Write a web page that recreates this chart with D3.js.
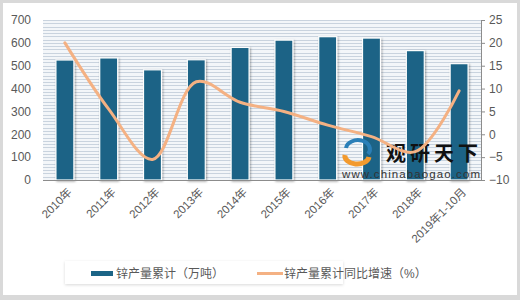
<!DOCTYPE html>
<html>
<head>
<meta charset="utf-8">
<script src="https://cdn.jsdelivr.net/npm/d3@7"></script>
<style>
  body { margin: 0; background: #d9d9d9; }
  svg { display: block; font-family: "Liberation Sans", "Noto Sans CJK SC", sans-serif; }
</style>
</head>
<body>
<svg id="chart" width="520" height="300"></svg>
<script>
// zinc output, 2010 - 2019 Jan-Oct
const years = ["2010年", "2011年", "2012年", "2013年", "2014年", "2015年", "2016年", "2017年", "2018年", "2019年1-10月"];
const output = [525, 534, 482, 526, 580, 612, 627, 621, 566, 509];
const growth = [20, 5.5, -5.5, 11.5, 7, 5, 2, -0.5, -3.8, 9.5];
const leftTicks = [0, 100, 200, 300, 400, 500, 600, 700];
const rightTicks = [-10, -5, 0, 5, 10, 15, 20, 25];
const legendNames = ["锌产量累计（万吨）", "锌产量累计同比增速（%）"];

const svg = d3.select("#chart");
const m = { top: 20, right: 39, bottom: 120, left: 43 };
const W = 520, H = 300;
const innerW = W - m.left - m.right;
const innerH = H - m.top - m.bottom;

// white panel inside gray frame
svg.append("rect").attr("x", 3).attr("y", 3).attr("width", W - 6).attr("height", H - 8)
    .attr("fill", "#fff");

const x = d3.scaleBand().domain(years).range([m.left, m.left + innerW]).paddingInner(0.59).paddingOuter(0.295);
const yL = d3.scaleLinear().domain([0, 700]).range([m.top + innerH, m.top]);
const yR = d3.scaleLinear().domain([-10, 25]).range([m.top + innerH, m.top]);

// plot background with dense horizontal lines
svg.append("rect").attr("x", m.left).attr("y", m.top).attr("width", innerW).attr("height", innerH)
    .attr("fill", "#f3f6f9");
svg.append("g").selectAll("line")
    .data(d3.range(0, 700.01, 100 / 7))
    .join("line")
    .attr("x1", m.left).attr("x2", m.left + innerW)
    .attr("y1", d => Math.round(yL(d)) + 0.5).attr("y2", d => Math.round(yL(d)) + 0.5)
    .attr("stroke", "#c9d3de").attr("stroke-width", 1);

// bars with white outline and soft shadow
const defs = svg.append("defs");
const f = defs.append("filter").attr("id", "sh").attr("x", "-30%").attr("y", "-10%").attr("width", "160%").attr("height", "130%");
f.append("feDropShadow").attr("dx", 1).attr("dy", 1).attr("stdDeviation", 1.2).attr("flood-color", "#000").attr("flood-opacity", 0.35);

svg.append("g").selectAll("rect")
    .data(output)
    .join("rect")
    .attr("x", (d, i) => x(years[i]))
    .attr("y", d => yL(d))
    .attr("width", x.bandwidth())
    .attr("height", d => yL(0) - yL(d))
    .attr("fill", "#1b6486")
    .attr("stroke", "#fff").attr("stroke-width", 1.2)
    .attr("filter", "url(#sh)");

// bottom axis line
svg.append("line").attr("x1", m.left).attr("x2", m.left + innerW)
    .attr("y1", yL(0) + 0.5).attr("y2", yL(0) + 0.5).attr("stroke", "#8c8c8c");

// right axis
const rAxis = svg.append("g").attr("transform", `translate(${m.left + innerW},0)`)
    .call(d3.axisRight(yR).tickValues(rightTicks).tickSize(4).tickPadding(4));
rAxis.select(".domain").attr("stroke", "#8c8c8c");
rAxis.selectAll("line").attr("stroke", "#8c8c8c");
rAxis.selectAll("text").attr("fill", "#595959").style("font-size", "12px");

// left axis, labels only
const lAxis = svg.append("g").attr("transform", `translate(${m.left},0)`)
    .call(d3.axisLeft(yL).tickValues(leftTicks).tickSize(0).tickPadding(12));
lAxis.select(".domain").remove();
lAxis.selectAll("text").attr("fill", "#595959").style("font-size", "12px");

// x labels rotated
svg.append("g").selectAll("text")
    .data(years)
    .join("text")
    .attr("transform", d => `translate(${x(d) + x.bandwidth() / 2 + 5},${yL(0) + 10}) rotate(-45)`)
    .attr("text-anchor", "end")
    .attr("dy", "0.35em")
    .attr("fill", "#595959")
    .style("font-size", "11.5px")
    .text(d => d);

// watermark
const wm = svg.append("g");
wm.append("path").attr("d", "M346,148 a12,9 0 1,1 22,6").attr("fill", "none").attr("stroke", "#2a7fb8").attr("stroke-width", 4);
wm.append("path").attr("d", "M345,155 a12,8 0 0,0 24,2").attr("fill", "none").attr("stroke", "#f29a2e").attr("stroke-width", 5);
wm.append("text").attr("x", 386).attr("y", 161).attr("fill", "#111").style("font-size", "20px")
    .style("font-weight", "bold").style("font-family", "Noto Sans CJK SC").attr("textLength", 92).text("观研天下");
wm.append("text").attr("x", 342).attr("y", 178).attr("fill", "#333").style("font-size", "11.5px")
    .attr("textLength", 138).text("www.chinabaogao.com");

// growth line, smoothed
const line = d3.line()
    .x((d, i) => x(years[i]) + x.bandwidth() / 2)
    .y(d => yR(d))
    .curve(d3.curveCatmullRom.alpha(0.5));
svg.append("path").datum(growth)
    .attr("d", line)
    .attr("fill", "none")
    .attr("stroke", "#f4b183")
    .attr("stroke-width", 3)
    .attr("stroke-linecap", "round");

// legend
const lg = svg.append("g");
const lf = defs.append("filter").attr("id", "lsh").attr("x", "-5%").attr("y", "-30%").attr("width", "110%").attr("height", "160%");
lf.append("feDropShadow").attr("dx", 0).attr("dy", 1).attr("stdDeviation", 1.5).attr("flood-color", "#000").attr("flood-opacity", 0.15);
lg.append("rect").attr("x", 65).attr("y", 261).attr("width", 278).attr("height", 23).attr("fill", "#fff").attr("filter", "url(#lsh)");
lg.append("rect").attr("x", 91).attr("y", 271).attr("width", 22).attr("height", 5).attr("fill", "#1b6486");
lg.append("text").attr("x", 116).attr("y", 273.5).attr("dy", "0.35em").attr("fill", "#595959")
    .style("font-size", "12px").text(legendNames[0]);
lg.append("line").attr("x1", 257).attr("x2", 283).attr("y1", 273.5).attr("y2", 273.5)
    .attr("stroke", "#f4b183").attr("stroke-width", 3);
lg.append("text").attr("x", 284).attr("y", 273.5).attr("dy", "0.35em").attr("fill", "#595959")
    .style("font-size", "12px").text(legendNames[1]);
</script>
</body>
</html>
